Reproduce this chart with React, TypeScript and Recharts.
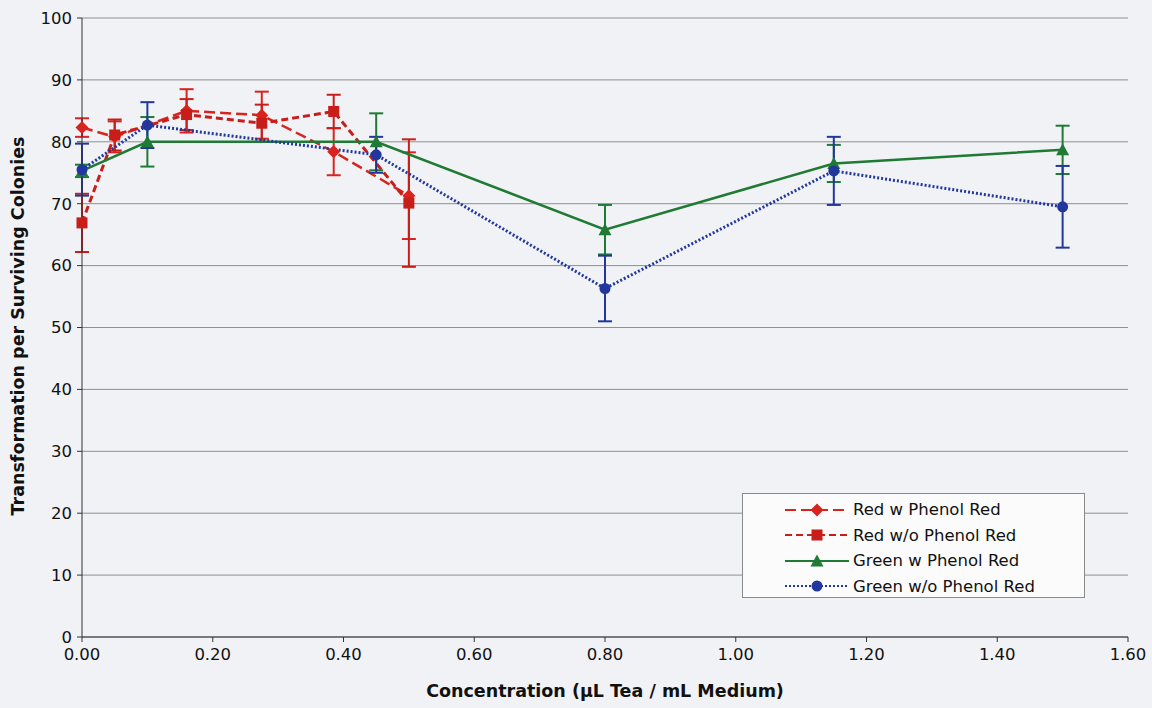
import { CartesianGrid, ErrorBar, Line, LineChart, XAxis, YAxis } from "recharts"

// values
const redWithX = [0, 0.05, 0.16, 0.275, 0.385, 0.5]
const redWithY = [82.3, 80.8, 85.0, 84.3, 78.4, 71.3]
const redWithErr = [1.5, 2.5, 3.5, 3.8, 3.8, 7.0]

const redWithoutX = [0, 0.05, 0.16, 0.275, 0.385, 0.5]
const redWithoutY = [66.9, 81.1, 84.4, 83.0, 84.9, 70.1]
const redWithoutErr = [4.7, 2.5, 2.5, 3.0, 2.7, 10.3]

const greenWithX = [0, 0.1, 0.45, 0.8, 1.15, 1.5]
const greenWithY = [75.3, 80.0, 80.0, 65.8, 76.5, 78.7]
const greenWithErr = [1.0, 4.0, 4.6, 4.0, 3.0, 3.9]

const greenWithoutX = [0, 0.1, 0.45, 0.8, 1.15, 1.5]
const greenWithoutY = [75.5, 82.7, 77.9, 56.3, 75.3, 69.5]
const greenWithoutErr = [4.2, 3.7, 2.9, 5.3, 5.5, 6.6]

const xTicks = [0, 0.2, 0.4, 0.6, 0.8, 1.0, 1.2, 1.4, 1.6]
const yTicks = [0, 10, 20, 30, 40, 50, 60, 70, 80, 90, 100]

const FONT = "'DejaVu Sans', Verdana, sans-serif"
const RED = "#d9231f"
const RED_DARK = "#c81e1a"
const GREEN = "#1f7a34"
const BLUE = "#22379e"

type Point = { x: number; y: number; err: number }
type Shape = "diamond" | "square" | "triangle" | "circle"

function toPoints(xs: number[], ys: number[], errs: number[]): Point[] {
  return xs.map((x, i) => ({ x, y: ys[i], err: errs[i] }))
}

const series: Array<{
  name: string
  data: Point[]
  color: string
  dash: string | undefined
  width: number
  shape: Shape
}> = [
  { name: "Red w Phenol Red", data: toPoints(redWithX, redWithY, redWithErr), color: RED, dash: "11 5", width: 2.5, shape: "diamond" },
  { name: "Red w/o Phenol Red", data: toPoints(redWithoutX, redWithoutY, redWithoutErr), color: RED_DARK, dash: "7 4", width: 3, shape: "square" },
  { name: "Green w Phenol Red", data: toPoints(greenWithX, greenWithY, greenWithErr), color: GREEN, dash: undefined, width: 2.5, shape: "triangle" },
  { name: "Green w/o Phenol Red", data: toPoints(greenWithoutX, greenWithoutY, greenWithoutErr), color: BLUE, dash: "2 2", width: 3, shape: "circle" },
]

function Marker({ cx, cy, shape, color }: { cx: number; cy: number; shape: Shape; color: string }) {
  if (shape === "diamond") {
    return <polygon points={`${cx},${cy - 6.5} ${cx + 6.5},${cy} ${cx},${cy + 6.5} ${cx - 6.5},${cy}`} fill={color} />
  }
  if (shape === "square") {
    return <rect x={cx - 5.5} y={cy - 5.5} width={11} height={11} fill={color} />
  }
  if (shape === "triangle") {
    return <polygon points={`${cx},${cy - 6.5} ${cx + 6.5},${cy + 5.5} ${cx - 6.5},${cy + 5.5}`} fill={color} />
  }
  return <circle cx={cx} cy={cy} r={5.5} fill={color} />
}

function LegendBox() {
  return (
    <div
      style={{
        position: "absolute",
        left: 742,
        top: 493,
        width: 343,
        height: 105,
        border: "1px solid #8a8a8a",
        background: "#fbfbfc",
        boxSizing: "border-box",
        paddingTop: 3,
      }}
    >
      {series.map((s) => (
        <div key={s.name} style={{ display: "flex", alignItems: "center", height: 25.5 }}>
          <svg width={108} height={20} style={{ flex: "none" }}>
            <line x1={42} y1={10} x2={106} y2={10} stroke={s.color} strokeWidth={2} strokeDasharray={s.dash ?? undefined} />
            <Marker cx={74} cy={10} shape={s.shape} color={s.color} />
          </svg>
          <span style={{ fontFamily: FONT, fontSize: 16.5, color: "#111", marginLeft: 2, whiteSpace: "nowrap" }}>{s.name}</span>
        </div>
      ))}
    </div>
  )
}

export default function App() {
  return (
    <div
      style={{
        position: "absolute",
        left: 0,
        top: 0,
        width: 1152,
        height: 708,
        background: "#f1f2f5",
        fontFamily: FONT,
      }}
    >
      <LineChart width={1152} height={708} margin={{ top: 18, right: 24, bottom: 31, left: 30 }}>
        <CartesianGrid vertical={false} stroke="#8f8f8f" strokeWidth={1} />
        <XAxis
          dataKey="x"
          type="number"
          domain={[0, 1.6]}
          ticks={xTicks}
          tickFormatter={(v: number) => v.toFixed(2)}
          height={40}
          tickSize={5}
          tickMargin={6}
          stroke="#333"
          tick={{ fill: "#111", fontSize: 16.5, fontFamily: FONT }}
          allowDuplicatedCategory={false}
        />
        <YAxis
          type="number"
          domain={[0, 100]}
          ticks={yTicks}
          width={52}
          tickSize={5}
          tickMargin={5}
          stroke="#333"
          tick={{ fill: "#111", fontSize: 16.5, fontFamily: FONT }}
        />
        {series.map((s) => (
          <Line
            key={s.name}
            data={s.data}
            dataKey="y"
            name={s.name}
            type="linear"
            stroke={s.color}
            strokeWidth={s.width}
            strokeDasharray={s.dash}
            isAnimationActive={false}
            dot={(props: any) => (
              <Marker key={`${s.name}-${props.index}`} cx={props.cx} cy={props.cy} shape={s.shape} color={s.color} />
            )}
            activeDot={false}
          >
            <ErrorBar dataKey="err" direction="y" width={7} stroke={s.color} strokeWidth={2} isAnimationActive={false} />
          </Line>
        ))}
      </LineChart>
      <LegendBox />
      <div
        style={{
          position: "absolute",
          left: 82,
          width: 1046,
          top: 681,
          textAlign: "center",
          fontWeight: "bold",
          fontSize: 17.5,
          color: "#111",
        }}
      >
        Concentration (μL Tea / mL Medium)
      </div>
      <div style={{ position: "absolute", left: 18, top: 326, width: 0, height: 0 }}>
        <div
          style={{
            position: "absolute",
            transform: "translate(-50%, -50%) rotate(-90deg)",
            whiteSpace: "nowrap",
            fontWeight: "bold",
            fontSize: 17.5,
            color: "#111",
          }}
        >
          Transformation per Surviving Colonies
        </div>
      </div>
    </div>
  )
}
